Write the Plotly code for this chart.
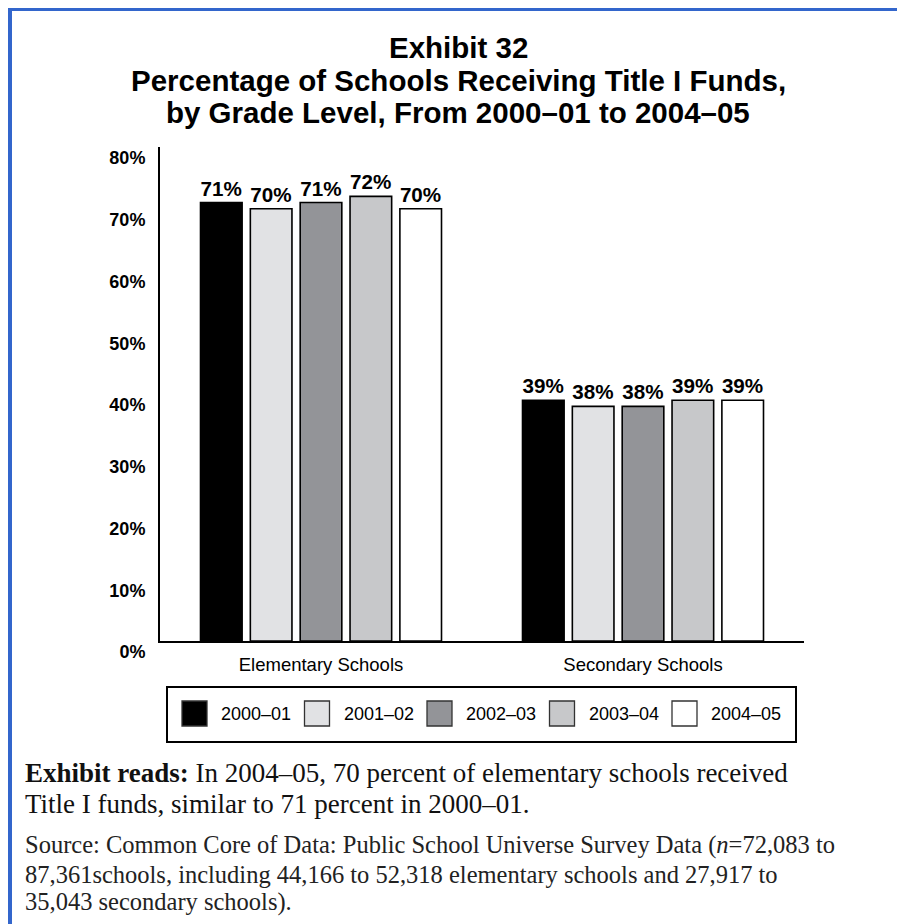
import plotly.graph_objects as go

# Data read from the exhibit
grade_levels = ["Elementary Schools", "Secondary Schools"]
school_years = ["2000–01", "2001–02", "2002–03", "2003–04", "2004–05"]
pct_2000_01 = [71, 39]
pct_2001_02 = [70, 38]
pct_2002_03 = [71, 38]
pct_2003_04 = [72, 39]
pct_2004_05 = [70, 39]
series_values = [pct_2000_01, pct_2001_02, pct_2002_03, pct_2003_04, pct_2004_05]
bar_colors = ["#000000", "#E1E2E4", "#939498", "#C7C8CA", "#FFFFFF"]
y_ticks = [0, 10, 20, 30, 40, 50, 60, 70, 80]

# the page body adds an 8px margin, so the figure is 8px smaller than the window
OFF = 8
W, H = 905 - OFF, 924 - OFF
L, R, T, B = 152, 101, 139, 283
PW, PH = W - L - R, H - T - B


# page pixel -> paper coords
def px(x):
    return (x - OFF - L) / PW


def py(y):
    return (H - B - (y - OFF)) / PH


SANS = "Liberation Sans, Arial, sans-serif"
SERIF = "Liberation Serif, Times New Roman, serif"

fig = go.Figure()

for name, vals, color in zip(school_years, series_values, bar_colors):
    fig.add_trace(go.Bar(
        x=grade_levels,
        y=vals,
        name=name,
        marker=dict(color=color, line=dict(color="#000000", width=1.6)),
        text=[f"{v}%" for v in vals],
        textposition="outside",
        textfont=dict(family=SANS, size=21, color="#000000", weight="bold"),
        cliponaxis=False,
        showlegend=False,
    ))

shapes = []
annotations = []

# blue frame on top and left
shapes.append(dict(type="rect", xref="paper", yref="paper",
                   x0=px(8), x1=px(915), y0=py(11), y1=py(5),
                   fillcolor="#3366CC", line=dict(width=0), layer="above"))
shapes.append(dict(type="rect", xref="paper", yref="paper",
                   x0=px(8), x1=px(12), y0=py(935), y1=py(7),
                   fillcolor="#3366CC", line=dict(width=0), layer="above"))

# legend box, drawn by hand so the swatches can be large
shapes.append(dict(type="rect", xref="paper", yref="paper",
                   x0=px(167), x1=px(796), y0=py(742), y1=py(687),
                   fillcolor="rgba(0,0,0,0)", line=dict(color="#000000", width=2)))
for i, (name, color) in enumerate(zip(school_years, bar_colors)):
    x0 = 182 + i * 122.5
    shapes.append(dict(type="rect", xref="paper", yref="paper",
                       x0=px(x0), x1=px(x0 + 25), y0=py(726), y1=py(701),
                       fillcolor=color, line=dict(color="#333333", width=1.3)))
    annotations.append(dict(xref="paper", yref="paper", x=px(x0 + 37), y=py(714),
                            xanchor="left", yanchor="middle", showarrow=False,
                            text=name, font=dict(family=SANS, size=18, color="#000000")))

# title, one annotation per line to control spacing
title_lines = ["Exhibit 32",
               "Percentage of Schools Receiving Title I Funds,",
               "by Grade Level, From 2000–01 to 2004–05"]
for line, yc in zip(title_lines, [48, 81, 112.5]):
    annotations.append(dict(xref="paper", yref="paper", x=px(458), y=py(yc),
                            xanchor="center", yanchor="middle", showarrow=False,
                            text=f"<b>{line}</b>",
                            font=dict(family=SANS, size=29.5, color="#000000")))

# notes under the chart
note_lines = ["<b>Exhibit reads:</b> In 2004–05, 70 percent of elementary schools received",
              "Title I funds, similar to 71 percent in 2000–01."]
for line, yc in zip(note_lines, [772.5, 803.5]):
    annotations.append(dict(xref="paper", yref="paper", x=px(23), y=py(yc),
                            xanchor="left", yanchor="middle", showarrow=False,
                            text=line, font=dict(family=SERIF, size=27, color="#111111")))

source_lines = ["Source: Common Core of Data: Public School Universe Survey Data (<i>n</i>=72,083 to",
                "87,361schools, including 44,166 to 52,318 elementary schools and 27,917 to",
                "35,043 secondary schools)."]
for line, yc in zip(source_lines, [845, 874, 902]):
    annotations.append(dict(xref="paper", yref="paper", x=px(23), y=py(yc),
                            xanchor="left", yanchor="middle", showarrow=False,
                            text=line, font=dict(family=SERIF, size=24.5, color="#222222")))

fig.update_layout(
    width=W, height=H,
    margin=dict(l=L, r=R, t=T, b=B, pad=0),
    paper_bgcolor="#FFFFFF",
    plot_bgcolor="#FFFFFF",
    barmode="group",
    bargap=0.226,
    bargroupgap=0.165,
    showlegend=False,
    shapes=shapes,
    annotations=annotations,
    xaxis=dict(
        showline=True, linecolor="#000000", linewidth=2,
        showgrid=False, zeroline=False, ticks="",
        tickfont=dict(family=SANS, size=18.5, color="#000000"),
        ticklabelstandoff=6,
    ),
    yaxis=dict(
        range=[0, 80],
        tickvals=y_ticks,
        ticktext=[f"{t}%" for t in y_ticks],
        showline=True, linecolor="#000000", linewidth=2,
        showgrid=False, zeroline=False, ticks="",
        tickfont=dict(family=SANS, size=18, color="#000000", weight="bold"),
        ticklabelshift=11,
        ticklabelstandoff=9,
    ),
)

fig.write_html("out.html")
